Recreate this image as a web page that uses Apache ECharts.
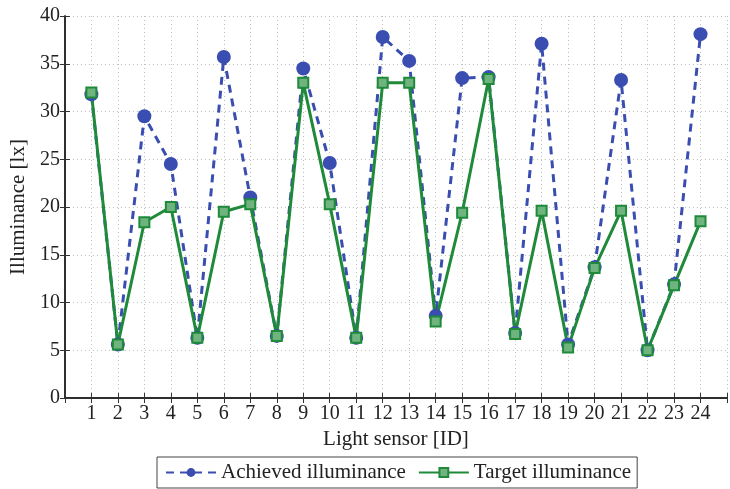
<!DOCTYPE html>
<html><head><meta charset="utf-8">
<script src="https://cdn.jsdelivr.net/npm/echarts@6/dist/echarts.min.js"></script>
<style>html,body{margin:0;padding:0;background:#fff}#c{width:730px;height:489px}</style>
</head><body><div id="c"></div>
<script>
const sensors = [1,2,3,4,5,6,7,8,9,10,11,12,13,14,15,16,17,18,19,20,21,22,23,24];
const achieved = [31.8,5.6,29.5,24.5,6.3,35.7,21.0,6.5,34.5,24.6,6.3,37.8,35.3,8.6,33.5,33.6,6.8,37.1,5.6,13.7,33.3,5.0,11.9,38.1];
const target = [32.0,5.6,18.4,20.0,6.3,19.5,20.3,6.5,33.0,20.3,6.3,33.0,33.0,8.0,19.4,33.4,6.7,19.6,5.3,13.6,19.6,5.0,11.8,18.5];
const yTicks = [0,5,10,15,20,25,30,35,40];

const blue = '#3a4db0', green = '#1e8a3a';
const font = 'Liberation Serif';
const chart = echarts.init(document.getElementById('c'));
const gridLine = {show:true, lineStyle:{color:'#bdbdbd', type:[1,3], width:1}};
const tick = {show:true, inside:true, length:5, lineStyle:{color:'#333'}};
chart.setOption({
  animation:false,
  grid:{left:63, top:16, right:-3, bottom:91, show:false},
  xAxis:[{
    type:'value', min:0, max:25, interval:1, position:'bottom',
    name:'Light sensor [ID]', nameLocation:'middle', nameGap:28,
    nameTextStyle:{fontFamily:font, fontSize:21, color:'#222'},
    axisLine:{show:true, lineStyle:{color:'#222', width:1.5}},
    axisTick:tick,
    axisLabel:{fontFamily:font, fontSize:20, color:'#222', margin:6,
      formatter:v => (v>=1 && v<=24) ? String(v) : ''},
    splitLine:gridLine
  },{
    type:'value', min:0, max:25, interval:1, position:'top',
    axisLine:{show:true, lineStyle:{color:'#222', width:1.5}},
    axisTick:tick, axisLabel:{show:false}, splitLine:{show:false}
  }],
  yAxis:[{
    type:'value', min:yTicks[0], max:yTicks[yTicks.length-1], interval:5,
    name:'Illuminance [lx]', nameLocation:'middle', nameGap:35,
    nameTextStyle:{fontFamily:font, fontSize:21, color:'#222'},
    axisLine:{show:true, lineStyle:{color:'#222', width:1.5}},
    axisTick:tick,
    axisLabel:{fontFamily:font, fontSize:20, color:'#222', margin:5},
    splitLine:gridLine
  },{
    type:'value', min:0, max:40, interval:5, position:'right',
    axisLine:{show:true, lineStyle:{color:'#222', width:1.5}},
    axisTick:tick, axisLabel:{show:false}, splitLine:{show:false}
  }],
  legend:{
    left:157, top:457, padding:[5,6,5,8], itemGap:12,
    borderColor:'#444', borderWidth:1, borderRadius:0,
    itemWidth:50, itemHeight:11,
    textStyle:{fontFamily:font, fontSize:21, color:'#222'},
    data:['Achieved illuminance','Target illuminance']
  },
  series:[{
    name:'Achieved illuminance', type:'line',
    data:sensors.map((s,i)=>[s, achieved[i]]),
    symbol:'circle', symbolSize:14,
    itemStyle:{color:blue},
    lineStyle:{color:blue, width:3, type:[8,6]}
  },{
    name:'Target illuminance', type:'line',
    data:sensors.map((s,i)=>[s, target[i]]),
    symbol:'rect', symbolSize:10,
    itemStyle:{color:'#6fb37f', borderColor:green, borderWidth:2},
    lineStyle:{color:green, width:3}
  }]
});
</script></body></html>
